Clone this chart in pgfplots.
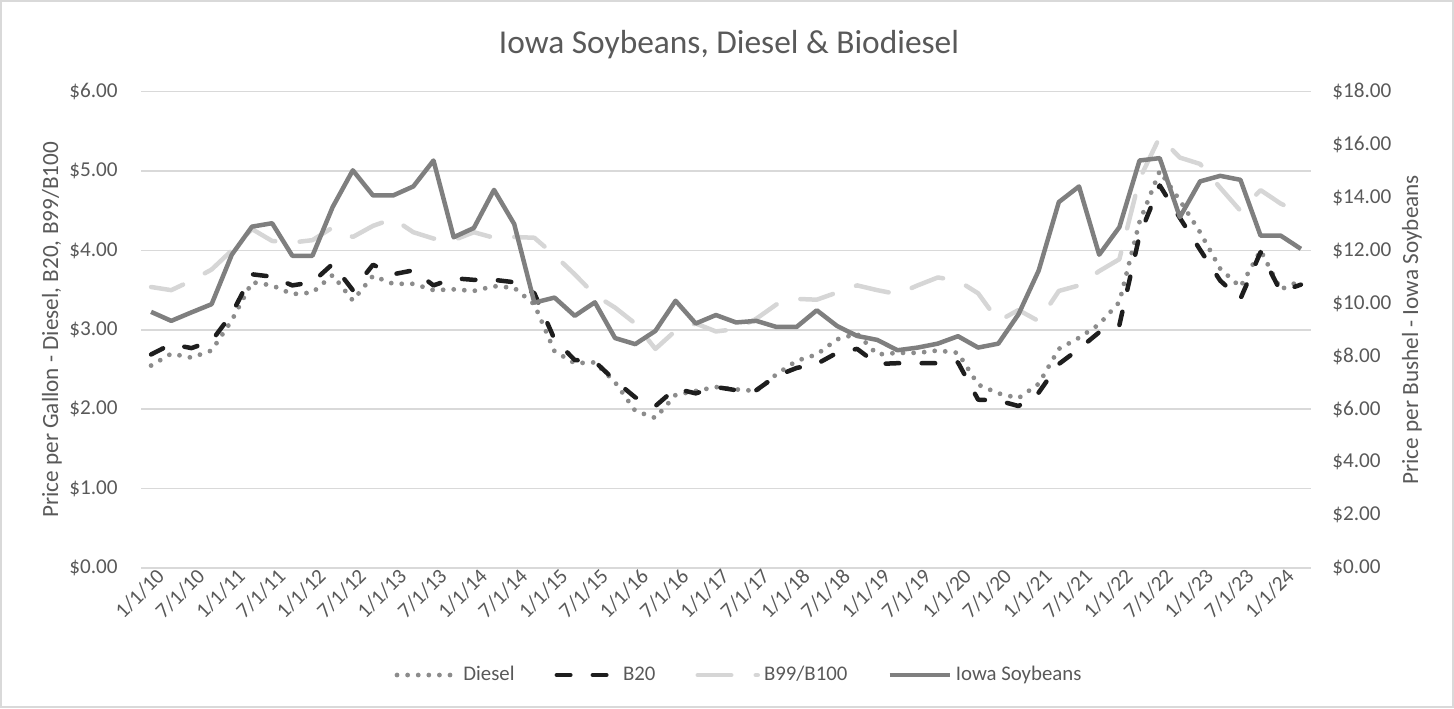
\documentclass[border=0pt]{standalone}
\usepackage{pgfplots}
\usepackage{pgfplotstable}
\pgfplotsset{compat=1.18}
\usepackage{fontspec}
\setmainfont{Carlito}
\definecolor{txt}{HTML}{595959}
\definecolor{grd}{HTML}{D9D9D9}
\definecolor{dsl}{HTML}{8C8C8C}
\definecolor{btw}{HTML}{1E1E1E}
\definecolor{bhd}{HTML}{D6D6D6}
\definecolor{soy}{HTML}{7F7F7F}
\pgfplotstableread{
i diesel b20 b99 soy
0 2.55 2.69 3.54 9.68
1 2.70 2.82 3.50 9.34
2 2.65 2.77 3.62 9.66
3 2.74 2.86 3.76 9.97
4 3.12 3.20 4.00 11.84
5 3.60 3.70 4.27 12.90
6 3.56 3.67 4.12 13.03
7 3.45 3.56 4.10 11.80
8 3.47 3.60 4.13 11.80
9 3.69 3.83 4.29 13.64
10 3.37 3.50 4.17 15.03
11 3.68 3.82 4.31 14.08
12 3.58 3.70 4.40 14.08
13 3.58 3.75 4.23 14.42
14 3.50 3.56 4.15 15.40
15 3.51 3.65 4.13 12.50
16 3.49 3.63 4.23 12.85
17 3.55 3.63 4.16 14.29
18 3.53 3.60 4.17 13.00
19 3.32 3.46 4.16 10.03
20 2.73 2.88 3.94 10.22
21 2.58 2.62 3.70 9.53
22 2.59 2.60 3.44 10.04
23 2.34 2.36 3.28 8.69
24 1.98 2.15 3.08 8.46
25 1.89 2.04 2.76 8.96
26 2.18 2.26 2.99 10.10
27 2.23 2.20 3.08 9.24
28 2.28 2.28 2.98 9.56
29 2.25 2.24 3.01 9.28
30 2.23 2.24 3.14 9.34
31 2.44 2.42 3.32 9.11
32 2.61 2.52 3.39 9.11
33 2.69 2.57 3.38 9.74
34 2.88 2.71 3.47 9.15
35 2.95 2.76 3.56 8.77
36 2.69 2.57 3.50 8.62
37 2.71 2.58 3.45 8.23
38 2.71 2.58 3.56 8.33
39 2.74 2.58 3.66 8.48
40 2.71 2.59 3.62 8.76
41 2.31 2.12 3.46 8.33
42 2.20 2.11 3.11 8.48
43 2.14 2.04 3.25 9.59
44 2.32 2.21 3.11 11.24
45 2.76 2.57 3.49 13.83
46 2.90 2.76 3.56 14.42
47 3.07 2.97 3.74 11.84
48 3.35 3.06 3.89 12.88
49 4.36 4.19 4.90 15.40
50 5.00 4.82 5.43 15.49
51 4.63 4.41 5.17 13.26
52 4.23 4.01 5.09 14.61
53 3.77 3.62 4.79 14.82
54 3.54 3.39 4.50 14.67
55 4.00 3.98 4.76 12.56
56 3.51 3.48 4.59 12.56
57 3.62 3.57 4.47 12.06
}\data
\begin{document}
\begin{tikzpicture}
\pgfplotsset{
  base/.style={
    at={(70.5pt,70pt)}, anchor=south west,
    scale only axis, width=585pt, height=238.15pt,
    xmin=-0.5, xmax=57.5, ymin=0,
    axis line style={draw=none}, major tick length=0pt,
    tick label style={font=\fontsize{10.6}{12}\selectfont, text=txt},
    clip=false,
  },
  dieselsty/.style={dsl, line width=2.4pt, line cap=round, line join=round, dash pattern=on 0pt off 5.3pt},
  b20sty/.style={btw, line width=2.25pt, line cap=round, line join=round, dash pattern=on 6.75pt off 11.25pt},
  b99sty/.style={bhd, line width=2.25pt, line cap=round, line join=round, dash pattern=on 16.75pt off 12.25pt},
  soysty/.style={soy, line width=2.25pt, line join=round},
}
\begin{axis}[base,
  ymax=6,
  xtick={0,2,...,56},
  xticklabels={1/1/10,7/1/10,1/1/11,7/1/11,1/1/12,7/1/12,1/1/13,7/1/13,1/1/14,7/1/14,1/1/15,7/1/15,1/1/16,7/1/16,1/1/17,7/1/17,1/1/18,7/1/18,1/1/19,7/1/19,1/1/20,7/1/20,1/1/21,7/1/21,1/1/22,7/1/22,1/1/23,7/1/23,1/1/24},
  xticklabel style={rotate=45, anchor=east, inner sep=0pt, xshift=2pt, yshift=-5pt},
  ytick={0,1,...,6},
  yticklabels={\$0.00,\$1.00,\$2.00,\$3.00,\$4.00,\$5.00,\$6.00},
  yticklabel style={anchor=east, inner sep=0pt, xshift=-11.5pt},
  ymajorgrids, grid style={grd, line width=0.75pt},
  ylabel={Price per Gallon - Diesel, B20, B99/B100},
  every axis y label/.style={at={(axis description cs:-0.0761,0.5)}, rotate=90, anchor=center,
    font=\fontsize{11.6}{13}\selectfont, text=txt},
]
\addplot[dieselsty] table[x=i, y=diesel] {\data};
\addplot[b20sty] table[x=i, y=b20] {\data};
\addplot[b99sty] table[x=i, y=b99] {\data};
\end{axis}
\begin{axis}[base,
  ymax=18,
  axis x line=none, axis y line*=right,
  xtick=\empty,
  ytick={0,2,...,18},
  yticklabels={\$0.00,\$2.00,\$4.00,\$6.00,\$8.00,\$10.00,\$12.00,\$14.00,\$16.00,\$18.00},
  yticklabel style={anchor=west, inner sep=0pt, xshift=10.5pt},
  ylabel={Price per Bushel - Iowa Soybeans},
  every axis y label/.style={at={(axis description cs:1.0863,0.5)}, rotate=90, anchor=center,
    font=\fontsize{11.6}{13}\selectfont, text=txt},
  legend columns=4,
  legend style={at={(axis description cs:0.512,-0.2247)}, anchor=center, draw=none, fill=none,
    font=\fontsize{10.4}{12}\selectfont, text=txt,
    /tikz/every even column/.append style={column sep=18pt}},
  legend image code/.code={\draw[#1] (0pt,0pt) -- (30pt,0pt);},
]
\addlegendimage{dieselsty}
\addlegendentry{Diesel}
\addlegendimage{b20sty}
\addlegendentry{B20}
\addlegendimage{b99sty}
\addlegendentry{B99/B100}
\addplot[soysty] table[x=i, y=soy] {\data};
\addlegendentry{Iowa Soybeans}
\end{axis}
\node[font=\fontsize{16.7}{19}\selectfont, text=txt] at (364.5pt,331.5pt) {Iowa Soybeans, Diesel \& Biodiesel};
\draw[grd, line width=0.75pt] (0.5pt,0.5pt) rectangle (726.5pt,353.5pt);
\pgfresetboundingbox
\useasboundingbox (0pt,0pt) rectangle (727pt,354pt);
\end{tikzpicture}
\end{document}
